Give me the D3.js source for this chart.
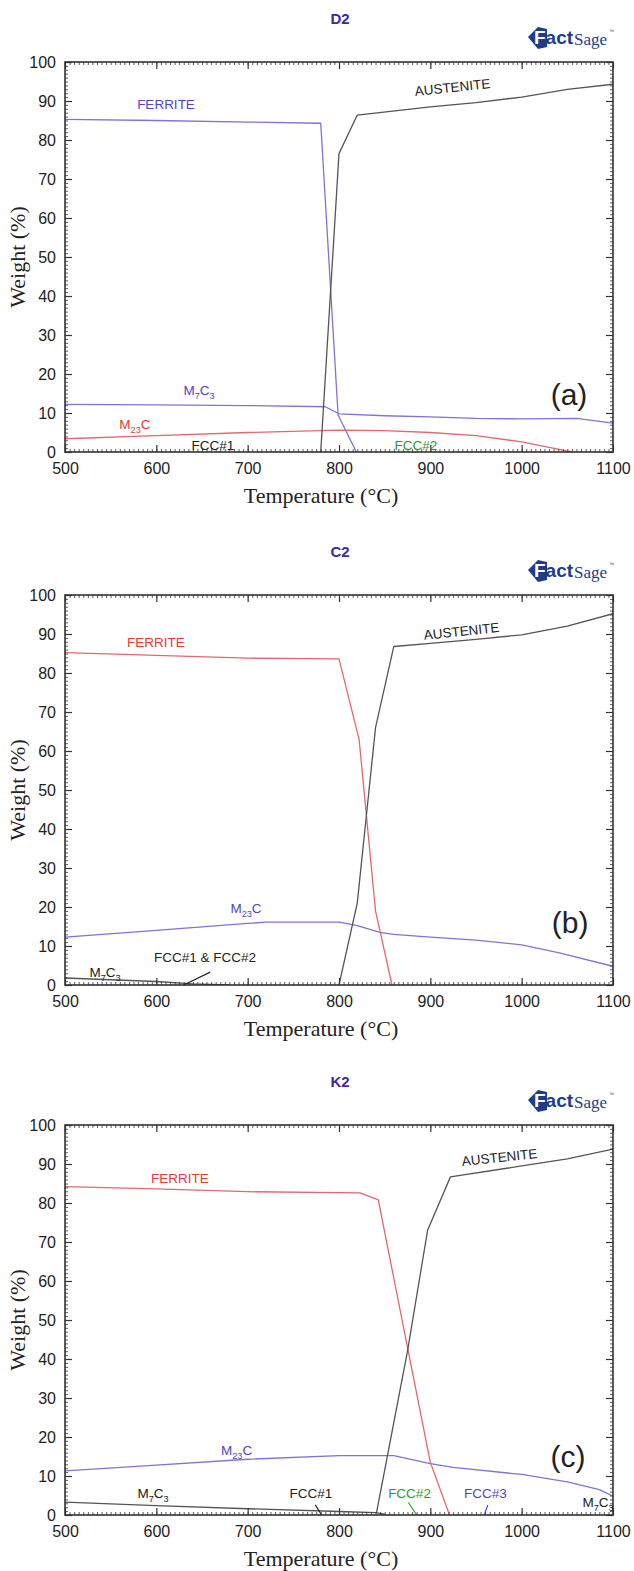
<!DOCTYPE html>
<html><head><meta charset="utf-8">
<script src="https://cdn.jsdelivr.net/npm/d3@7"></script>
<style>body{margin:0;background:#fff}</style>
</head><body><svg id="c" width="634" height="1571"></svg>
<script>
// ---------- data ----------
const tempTicks = [500, 600, 700, 800, 900, 1000, 1100];
const weightTicks = [0, 10, 20, 30, 40, 50, 60, 70, 80, 90, 100];
const panelTitles = ["D2", "C2", "K2"];
const panelTags = ["(a)", "(b)", "(c)"];

// D2 (a)
const d2Ferrite   = [[500,85.3],[600,85.0],[700,84.6],[780,84.3],[799,9.5],[819,0]];
const d2Austenite = [[780,0],[800,76.5],[820,86.4],[900,88.5],[950,89.6],[1000,91.0],[1050,93.0],[1100,94.3]];
const d2M7C3      = [[500,12.2],[600,12.1],[700,11.9],[785,11.6],[800,9.8],[850,9.3],[900,9.0],[950,8.6],[1000,8.5],[1060,8.6],[1100,7.4]];
const d2M23C      = [[500,3.4],[600,4.2],[700,5.0],[800,5.6],[850,5.5],[900,5.0],[950,4.2],[1000,2.6],[1030,1.2],[1055,0]];

// C2 (b)
const c2Ferrite   = [[500,85.2],[600,84.5],[700,83.8],[800,83.6],[822,63],[840,19],[858,0]];
const c2Austenite = [[800,0],[820,21],[840,66],[860,86.8],[900,87.6],[950,88.6],[1000,89.8],[1050,92.0],[1100,95.2]];
const c2M23C      = [[500,12.3],[600,14.0],[700,15.8],[720,16.1],[800,16.1],[820,15.2],[845,13.5],[860,13.0],[900,12.3],[950,11.5],[1000,10.3],[1040,8.3],[1100,4.8]];
const c2M7C3      = [[500,1.8],[600,0.9],[640,0.3],[680,0]];
const c2FccPointer = [[659,3.3],[630,0]];

// K2 (c)
const k2Ferrite   = [[500,84.2],[600,83.6],[700,82.9],[823,82.6],[843,80.8],[875,43],[900,13.5],[921,0]];
const k2Austenite = [[841,0.5],[875,42],[897,73],[922,86.7],[1000,89.5],[1050,91.3],[1100,93.8]];
const k2M23C      = [[500,11.3],[600,12.8],[700,14.3],[800,15.2],[860,15.2],[900,13.2],[925,12.2],[1000,10.4],[1050,8.5],[1085,6.5],[1100,4.8]];
const k2M7C3      = [[500,3.3],[600,2.4],[700,1.6],[800,0.9],[840,0.6],[850,0.2]];
const k2Fcc1Pointer = [[774,2.6],[781,0]];
const k2Fcc2Pointer = [[876,3.2],[885,0]];
const k2Fcc3Pointer = [[963,2.6],[959,0]];

// ---------- styles ----------
const C = {
  blue: "#7d74d6", red: "#df6a6e", gray: "#555", green: "#2e9a2e",
  blueText: "#5046c2", redText: "#e23a3a", black: "#222", title: "#3a2aa8", logo: "#1d3c8c"
};

const panels = [
  {
    off: 0,
    series: [
      {data: d2M23C, color: C.red},
      {data: d2M7C3, color: C.blue},
      {data: d2Ferrite, color: C.blue},
      {data: d2Austenite, color: C.gray}
    ],
    labels: [
      {text: "FERRITE", t: 610.6, v: 89.2, color: C.blueText},
      {text: "AUSTENITE", t: 924.8, v: 93.6, color: C.black, rot: -6},
      {text: "M_7C_3", t: 646.7, v: 15.9, color: C.blueText},
      {text: "M_23C", t: 576.6, v: 7.2, color: C.redText},
      {text: "FCC#1", t: 662, v: 1.8, color: C.black},
      {text: "FCC#2", t: 884.3, v: 1.8, color: C.green}
    ],
    pointers: [],
    tag: {t: 1051.8, v: 14.6}
  },
  {
    off: 533,
    series: [
      {data: c2M7C3, color: C.gray},
      {data: c2M23C, color: C.blue},
      {data: c2Ferrite, color: C.red},
      {data: c2Austenite, color: C.gray}
    ],
    labels: [
      {text: "FERRITE", t: 599.6, v: 88.0, color: C.redText},
      {text: "AUSTENITE", t: 934.7, v: 90.8, color: C.black, rot: -6},
      {text: "M_23C", t: 698.2, v: 19.7, color: C.blueText},
      {text: "M_7C_3", t: 543.8, v: 3.3, color: C.black},
      {text: "FCC#1 & FCC#2", t: 653.3, v: 7.2, color: C.black}
    ],
    pointers: [{data: c2FccPointer, color: C.black}],
    tag: {t: 1053, v: 15.9}
  },
  {
    off: 1063,
    series: [
      {data: k2M7C3, color: C.gray},
      {data: k2M23C, color: C.blue},
      {data: k2Ferrite, color: C.red},
      {data: k2Austenite, color: C.gray}
    ],
    labels: [
      {text: "FERRITE", t: 625.9, v: 86.4, color: C.redText},
      {text: "AUSTENITE", t: 976.3, v: 91.8, color: C.black, rot: -6},
      {text: "M_23C", t: 687.8, v: 16.7, color: C.blueText},
      {text: "M_7C_3", t: 596.4, v: 5.6, color: C.black},
      {text: "FCC#1", t: 769.3, v: 5.6, color: C.black},
      {text: "FCC#2", t: 877.2, v: 5.6, color: C.green},
      {text: "FCC#3", t: 960.3, v: 5.6, color: C.blueText},
      {text: "M_7C_3", t: 1083.6, v: 3.3, color: C.black}
    ],
    pointers: [
      {data: k2Fcc1Pointer, color: C.black},
      {data: k2Fcc2Pointer, color: C.green},
      {data: k2Fcc3Pointer, color: C.blueText}
    ],
    tag: {t: 1050.7, v: 14.9}
  }
];

// ---------- drawing ----------
const svg = d3.select("#c");
const SANS = "'Liberation Sans', Arial, sans-serif";
const SERIF = "'Liberation Serif', 'Times New Roman', serif";

function addRichText(g, str, x, y, size, color, rot) {
  const t = g.append("text")
    .attr("x", x).attr("y", y)
    .attr("text-anchor", "middle")
    .attr("font-family", SANS).attr("font-size", size)
    .attr("fill", color);
  if (rot) t.attr("transform", `rotate(${rot},${x},${y})`);
  const tokens = str.match(/_\d+|[^_]+/g);
  let shifted = false;
  tokens.forEach(tok => {
    if (tok[0] === "_") {
      t.append("tspan").attr("font-size", size * 0.68).attr("dy", 4).text(tok.slice(1));
      shifted = true;
    } else {
      const sp = t.append("tspan").text(tok);
      if (shifted) { sp.attr("dy", -4); shifted = false; }
    }
  });
  return t;
}

function logo(g, x0, y0) {
  g.append("path")
    .attr("d", `M${x0},${y0+10} L${x0+10},${y0} L${x0+19},${y0+2} L${x0+19},${y0+20} L${x0+10},${y0+22} Z`)
    .attr("fill", C.logo);
  const t = g.append("text").attr("x", x0 + 6).attr("y", y0 + 17)
    .attr("font-family", SANS).attr("font-weight", "bold")
    .attr("font-size", 19).attr("fill", C.logo);
  t.append("tspan").attr("fill", "#fff").text("F");
  t.append("tspan").text("act");
  g.append("text").attr("x", x0 + 46).attr("y", y0 + 18)
    .attr("font-family", SERIF).attr("font-size", 17).attr("fill", C.logo)
    .text("Sage");
  g.append("text").attr("x", x0 + 81).attr("y", y0 + 6)
    .attr("font-family", SANS).attr("font-size", 5).attr("fill", C.logo).text("™");
}

const minorT = d3.range(500, 1101, 5);
const minorW = d3.range(0, 101, 1);

panels.forEach((p, i) => {
  const off = p.off;
  const x = d3.scaleLinear().domain([500, 1100]).range([65, 613]);
  const y = d3.scaleLinear().domain([0, 100]).range([452 + off, 62 + off]);
  const g = svg.append("g");

  const cid = "clip" + i;
  svg.append("clipPath").attr("id", cid).append("rect")
    .attr("x", 65).attr("y", 62 + off).attr("width", 548).attr("height", 390);

  const line = d3.line().x(d => x(d[0])).y(d => y(d[1]));
  p.series.forEach(s => {
    g.append("path").datum(s.data).attr("d", line)
      .attr("fill", "none").attr("stroke", s.color).attr("stroke-width", 1.3)
      .attr("stroke-linejoin", "round")
      .attr("clip-path", `url(#${cid})`);
  });
  p.pointers.forEach(s => {
    g.append("path").datum(s.data).attr("d", line)
      .attr("fill", "none").attr("stroke", s.color).attr("stroke-width", 1.2);
  });

  // minor ticks
  const mk = (axis, tx) => {
    const a = g.append("g").attr("transform", tx).call(axis);
    a.select(".domain").remove();
    a.selectAll("text").remove();
    a.selectAll("line").attr("stroke", "#333").attr("stroke-width", 0.8);
  };
  mk(d3.axisBottom(x).tickValues(minorT).tickSize(-3), `translate(0,${452 + off})`);
  mk(d3.axisTop(x).tickValues(minorT).tickSize(-3), `translate(0,${62 + off})`);
  mk(d3.axisLeft(y).tickValues(minorW).tickSize(-3), `translate(65,0)`);
  mk(d3.axisRight(y).tickValues(minorW).tickSize(-3), `translate(613,0)`);

  // major ticks with labels
  const fmt = d3.format("d");
  const xb = g.append("g").attr("transform", `translate(0,${452 + off})`)
    .call(d3.axisBottom(x).tickValues(tempTicks).tickSize(-7).tickPadding(11).tickFormat(fmt));
  const xt = g.append("g").attr("transform", `translate(0,${62 + off})`)
    .call(d3.axisTop(x).tickValues(tempTicks).tickSize(-7).tickFormat(""));
  const yl = g.append("g").attr("transform", `translate(65,0)`)
    .call(d3.axisLeft(y).tickValues(weightTicks).tickSize(-7).tickPadding(9).tickFormat(fmt));
  const yr = g.append("g").attr("transform", `translate(613,0)`)
    .call(d3.axisRight(y).tickValues(weightTicks).tickSize(-7).tickFormat(""));
  [xb, xt, yl, yr].forEach(a => {
    a.select(".domain").remove();
    a.selectAll("line").attr("stroke", "#333").attr("stroke-width", 1.2);
    a.selectAll("text").attr("font-family", SANS).attr("font-size", 16).attr("fill", "#222");
  });

  // frame
  g.append("rect").attr("x", 65).attr("y", 62 + off).attr("width", 548).attr("height", 390)
    .attr("fill", "none").attr("stroke", "#333").attr("stroke-width", 1.6);

  // axis titles
  g.append("text").attr("x", 321).attr("y", 503 + off).attr("text-anchor", "middle")
    .attr("font-family", SERIF).attr("font-size", 22).attr("fill", "#222")
    .text("Temperature (°C)");
  g.append("text").attr("transform", `translate(25,${257 + off}) rotate(-90)`)
    .attr("text-anchor", "middle")
    .attr("font-family", SERIF).attr("font-size", 22).attr("fill", "#222")
    .text("Weight (%)");

  // title + logo
  g.append("text").attr("x", 340).attr("y", 24 + off).attr("text-anchor", "middle")
    .attr("font-family", SANS).attr("font-weight", "bold").attr("font-size", 15)
    .attr("fill", C.title).text(panelTitles[i]);
  logo(g, 528, 27 + off);

  // phase labels
  p.labels.forEach(l => {
    addRichText(g, l.text, x(l.t), y(l.v) + 5, 13.5, l.color, l.rot);
  });

  // panel tag
  g.append("text").attr("x", x(p.tag.t)).attr("y", y(p.tag.v) + 10)
    .attr("text-anchor", "middle").attr("font-family", SANS).attr("font-size", 30)
    .attr("fill", "#222").text(panelTags[i]);
});
</script>
</body></html>
